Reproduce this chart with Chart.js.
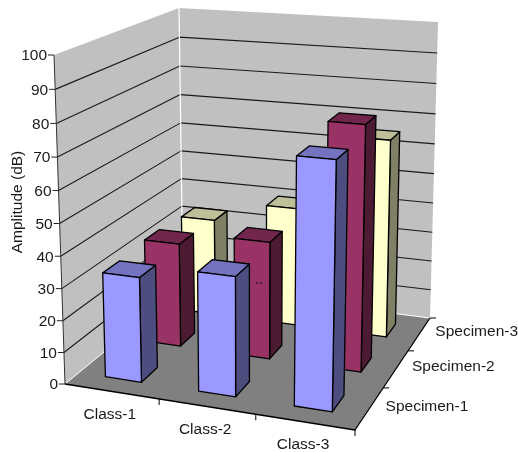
<!DOCTYPE html>
<html>
<head>
<meta charset="utf-8">
<title>Amplitude by class and specimen</title>
<script src="https://cdn.jsdelivr.net/npm/chart.js@4/dist/chart.umd.min.js"></script>
<style>
  html, body { margin: 0; padding: 0; background: white; }
  canvas { display: block; }
</style>
</head>
<body>
<canvas id="amp-canvas" width="518" height="452"></canvas>
<script>
const classes = ['Class-1', 'Class-2', 'Class-3'];
const specimens = ['Specimen-1', 'Specimen-2', 'Specimen-3'];
const specimen1 = [33, 37, 74.5];
const specimen2 = [34, 38, 77.5];
const specimen3 = [33, 40, 65.5];
const seriesValues = [specimen1, specimen2, specimen3];

// front, top and side face colours per specimen
const faceColors = [
    { front: '#9999FF', top: '#7373BF', side: '#4D4D80' },
    { front: '#993366', top: '#73264D', side: '#4D1A33' },
    { front: '#FFFFCC', top: '#BFBF99', side: '#808066' }
];

// screen position of the eight corners of the plot box
const BOX = {
    floorFL: [65, 384], floorFR: [355, 430], floorBL: [183, 287], floorBR: [430, 318],
    roofFL: [54, 55], roofFR: [362, 78], roofBL: [179, 8], roofBR: [438, 22]
};
const FORESHORTEN = { u: 1.04, v: 0.83, w: 1.05 };
const BAR_NUDGE = -1.7;
const FONT = '15.5px "Liberation Sans", Arial, sans-serif';

function bend(t, k) {
    return t / (t + k * (1 - t));
}

function mix(a, b, t) {
    return [a[0] + (b[0] - a[0]) * t, a[1] + (b[1] - a[1]) * t];
}

// u = along classes, v = into the depth, w = up
function project(u, v, w) {
    const U = bend(u, FORESHORTEN.u), V = bend(v, FORESHORTEN.v), W = bend(w, FORESHORTEN.w);
    const floor = mix(mix(BOX.floorFL, BOX.floorFR, U), mix(BOX.floorBL, BOX.floorBR, U), V);
    const roof = mix(mix(BOX.roofFL, BOX.roofFR, U), mix(BOX.roofBL, BOX.roofBR, U), V);
    return mix(floor, roof, W);
}

function barPoint(u, v, w) {
    const p = project(u, v, w);
    return [p[0] + BAR_NUDGE, p[1]];
}

function poly(ctx, pts, fill, stroke, lw) {
    ctx.beginPath();
    pts.forEach(function (p, i) {
        if (i === 0) ctx.moveTo(p[0], p[1]); else ctx.lineTo(p[0], p[1]);
    });
    if (fill) { ctx.closePath(); ctx.fillStyle = fill; ctx.fill(); }
    if (stroke) { ctx.strokeStyle = stroke; ctx.lineWidth = lw; ctx.stroke(); }
}

const box3dPlugin = {
    id: 'box3d',
    // flat bars are replaced by the projected boxes below
    beforeDatasetDraw: function () { return false; },
    afterDatasetsDraw: function (chart) {
        const ctx = chart.ctx;
        const sx = chart.scales.x, sy = chart.scales.y, sz = chart.scales.z;
        const toU = function (px) { return (px - sx.left) / sx.width; };
        const toV = function (px) { return (px - sz.left) / sz.width; };
        const toW = function (px) { return (sy.bottom - px) / sy.height; };
        ctx.save();
        ctx.lineJoin = 'round';

        // walls and floor
        poly(ctx, [project(0, 0, 0), project(0, 1, 0), project(0, 1, 1), project(0, 0, 1)], '#C0C0C0');
        poly(ctx, [project(0, 1, 0), project(1, 1, 0), project(1, 1, 1), project(0, 1, 1)], '#C0C0C0');
        poly(ctx, [project(0, 0, 0), project(1, 0, 0), project(1, 1, 0), project(0, 1, 0)], '#808080');

        // gridlines and amplitude ticks
        ctx.font = FONT;
        ctx.textAlign = 'right';
        ctx.textBaseline = 'middle';
        sy.ticks.forEach(function (tick) {
            const w = toW(sy.getPixelForValue(tick.value));
            const a = project(0, 0, w);
            if (tick.value > 0 && tick.value < 100) {
                poly(ctx, [a, project(0, 1, w), project(1, 1, w)], null, '#1a1a1a', 1.1);
            }
            poly(ctx, [[a[0] - 6, a[1]], a], null, '#222', 1);
            ctx.fillStyle = '#1a1a1a';
            ctx.fillText(String(tick.value), a[0] - 7, a[1] + 1);
        });

        // white seams between the wall planes
        poly(ctx, [project(0, 1, 0), project(0, 1, 1)], null, '#fff', 1.2);
        poly(ctx, [project(0, 0, 0), project(0, 1, 0), project(1, 1, 0)], null, '#fff', 1);
        poly(ctx, [project(0, 0, 0), project(0, 0, 1)], null, '#333', 1);

        // floor edges with their category ticks
        poly(ctx, [project(0, 0, 0), project(1, 0, 0), project(1, 1, 0)], null, '#000', 1.3);
        ctx.textAlign = 'center';
        ctx.fillStyle = '#1a1a1a';
        classes.forEach(function (name, i) {
            const t = project(toU(sx.getPixelForValue(i + 0.5)), 0, 0);
            poly(ctx, [t, [t[0], t[1] + 6]], null, '#000', 1);
            const c = project(toU(sx.getPixelForValue(i)), 0, 0);
            ctx.fillText(name, c[0] - 2, c[1] + 23);
        });
        ctx.textAlign = 'left';
        specimens.forEach(function (name, i) {
            const t = project(1, toV(sz.getPixelForValue(i + 0.5)), 0);
            poly(ctx, [t, [t[0] + 6, t[1]]], null, '#000', 1);
            const c = project(1, toV(sz.getPixelForValue(i)), 0);
            ctx.fillText(name, c[0] + 16, c[1] - 2);
        });

        // boxes: back row first, left to right inside a row
        for (let s = specimens.length - 1; s >= 0; s--) {
            const meta = chart.getDatasetMeta(s);
            const colors = faceColors[s];
            const depth = sz.width / specimens.length * chart.data.datasets[s].barPercentage;
            const zc = sz.getPixelForValue(s);
            const v0 = toV(zc - depth / 2), v1 = toV(zc + depth / 2);
            meta.data.forEach(function (bar) {
                const u0 = toU(bar.x - bar.width / 2), u1 = toU(bar.x + bar.width / 2);
                const w = toW(bar.y);
                poly(ctx, [barPoint(u1, v0, 0), barPoint(u1, v1, 0), barPoint(u1, v1, w), barPoint(u1, v0, w)],
                    colors.side, '#000', 1.3);
                poly(ctx, [barPoint(u0, v0, w), barPoint(u1, v0, w), barPoint(u1, v1, w), barPoint(u0, v1, w)],
                    colors.top, '#000', 1.3);
                poly(ctx, [barPoint(u0, v0, 0), barPoint(u1, v0, 0), barPoint(u1, v0, w), barPoint(u0, v0, w)],
                    colors.front, '#000', 1.3);
            });
        }

        // stray marks sitting on the Class-2 / Specimen-2 bar
        ctx.textAlign = 'center';
        ctx.fillStyle = '#000';
        ctx.font = '12px "Liberation Sans", Arial, sans-serif';
        ctx.textBaseline = 'alphabetic';
        ctx.fillText('``', 259, 292);

        // axis title
        ctx.font = FONT;
        ctx.textBaseline = 'middle';
        ctx.translate(18, 202);
        ctx.rotate(-Math.PI / 2);
        ctx.fillStyle = '#1a1a1a';
        ctx.fillText('Amplitude (dB)', 0, 0);
        ctx.restore();
    }
};

new Chart(document.getElementById('amp-canvas').getContext('2d'), {
    type: 'bar',
    data: {
        labels: classes,
        datasets: specimens.map(function (name, i) {
            return {
                label: name,
                data: seriesValues[i],
                backgroundColor: faceColors[i].front,
                grouped: false,
                barPercentage: 0.39,
                categoryPercentage: 1
            };
        })
    },
    options: {
        responsive: false,
        animation: false,
        layout: { padding: 0 },
        plugins: { legend: { display: false }, tooltip: { enabled: false } },
        scales: {
            x: { type: 'category', display: false, offset: true },
            z: { type: 'category', axis: 'x', labels: specimens, display: false, offset: true },
            y: { type: 'linear', display: false, min: 0, max: 100, ticks: { stepSize: 10 } }
        }
    },
    plugins: [box3dPlugin]
});
</script>
</body>
</html>
